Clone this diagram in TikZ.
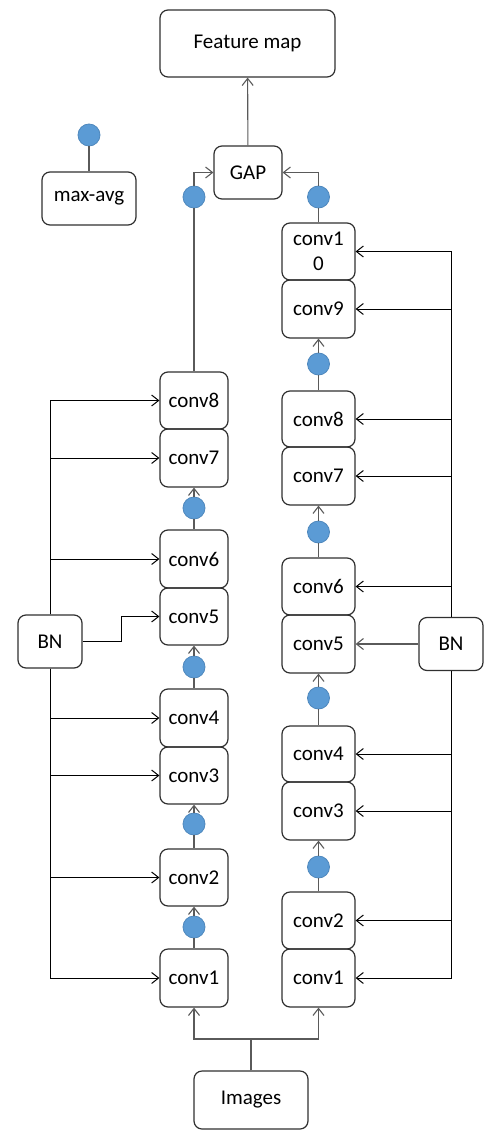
\documentclass[tikz,border=0pt]{standalone}
\usepackage{fontspec}
\setmainfont{Carlito}
\usepackage{tikz}
\usepackage{xcolor}
\usetikzlibrary{calc,arrows.meta}
\definecolor{dotfill}{HTML}{5B9BD5}
\definecolor{dotline}{HTML}{4F88BD}
\definecolor{boxline}{HTML}{303030}
\definecolor{wire}{HTML}{5A5A5A}
\tikzstyle{convbox} =[
    draw=boxline,
    line width=1.2pt,
    rounded corners=8pt,
    rectangle,
    align=center,
    inner sep=2pt,
    font=\fontsize{21}{25}\selectfont
    ]
\tikzstyle{dot} =[
    circle,
    fill=dotfill,
    draw=dotline,
    line width=0.8pt,
    minimum size=22pt,
    inner sep=0pt
    ]
\tikzstyle{wire} =[
    draw=wire,
    line width=1.1pt
    ]

\begin{document}
\begin{tikzpicture}[x=1pt,y=-1pt,>={Straight Barb[length=7pt,width=11pt]}]
\useasboundingbox (0,0) rectangle (494,1134);

% top part
\node[convbox, minimum width=175pt, minimum height=67pt] (fmap) at (247.5,43.5) {Feature map};
\node[convbox, minimum width=68pt, minimum height=53pt] (gap) at (248,172.5) {GAP};
\node[convbox, minimum width=94pt, minimum height=53pt] (maxavg) at (89,198.5) {max-avg};
\node[dot] (maxdot) at (89,135) {};
\draw[wire] (maxdot) -- (maxavg);
\draw[wire,->] (gap) -- (fmap);

% left branch
\node[convbox, minimum width=68pt, minimum height=57pt] (lc8) at (194,400.5) {conv8};
\node[convbox, minimum width=68pt, minimum height=58pt] (lc7) at (194,458) {conv7};
\node[convbox, minimum width=68pt, minimum height=58pt] (lc6) at (194,559) {conv6};
\node[convbox, minimum width=68pt, minimum height=57pt] (lc5) at (194,616.5) {conv5};
\node[convbox, minimum width=68pt, minimum height=58pt] (lc4) at (194,718) {conv4};
\node[convbox, minimum width=68pt, minimum height=57pt] (lc3) at (194,775.5) {conv3};
\node[convbox, minimum width=68pt, minimum height=57pt] (lc2) at (194,877.5) {conv2};
\node[convbox, minimum width=68pt, minimum height=58pt] (lc1) at (194,978) {conv1};
\node[dot] (ldot5) at (194,197) {};
\node[dot] (ldot4) at (194,508) {};
\node[dot] (ldot3) at (194,667) {};
\node[dot] (ldot2) at (194,824) {};
\node[dot] (ldot1) at (194,927) {};
\foreach \lo/\d/\hi in {lc1/ldot1/lc2, lc2/ldot2/lc3, lc4/ldot3/lc5, lc6/ldot4/lc7}{
    \draw[wire] (\lo) -- (\d);
    \draw[wire,->] (\d) -- (\hi);
}
\draw[wire] (lc8) -- (ldot5);
\draw[wire,->] (ldot5) |- (gap.west);

% right branch
\node[convbox, minimum width=73pt, minimum height=57pt] (rc10) at (318.5,251.5) {conv1\\0};
\node[convbox, minimum width=73pt, minimum height=58pt] (rc9) at (318.5,309) {conv9};
\node[convbox, minimum width=73pt, minimum height=56pt] (rc8) at (318.5,419) {conv8};
\node[convbox, minimum width=73pt, minimum height=58pt] (rc7) at (318.5,476) {conv7};
\node[convbox, minimum width=73pt, minimum height=57pt] (rc6) at (318.5,586.5) {conv6};
\node[convbox, minimum width=73pt, minimum height=58pt] (rc5) at (318.5,644) {conv5};
\node[convbox, minimum width=73pt, minimum height=56pt] (rc4) at (318.5,754) {conv4};
\node[convbox, minimum width=73pt, minimum height=58pt] (rc3) at (318.5,811) {conv3};
\node[convbox, minimum width=73pt, minimum height=57pt] (rc2) at (318.5,920.5) {conv2};
\node[convbox, minimum width=73pt, minimum height=58pt] (rc1) at (318.5,978) {conv1};
\node[dot] (rdot5) at (318.5,197) {};
\node[dot] (rdot4) at (318.5,364) {};
\node[dot] (rdot3) at (318.5,532) {};
\node[dot] (rdot2) at (318.5,698) {};
\node[dot] (rdot1) at (318.5,867) {};
\foreach \lo/\d/\hi in {rc2/rdot1/rc3, rc4/rdot2/rc5, rc6/rdot3/rc7, rc8/rdot4/rc9}{
    \draw[wire] (\lo) -- (\d);
    \draw[wire,->] (\d) -- (\hi);
}
\draw[wire] (rc10) -- (rdot5);
\draw[wire,->] (rdot5) |- (gap.east);

% batch norm
\node[convbox, minimum width=64pt, minimum height=53pt] (bnl) at (50,641.5) {BN};
\node[convbox, minimum width=64pt, minimum height=53pt] (bnr) at (451,644) {BN};
\foreach \t in {lc8,lc7,lc6}{\draw[->,line width=1pt] (bnl.north) |- (\t.west);}
\foreach \t in {lc4,lc3,lc2,lc1}{\draw[->,line width=1pt] (bnl.south) |- (\t.west);}
\coordinate (bnlturn) at (121,641.5);
\draw[->,line width=1pt] (bnl.east) -- (bnlturn) |- (lc5.west);
\foreach \t in {rc10,rc9,rc8,rc7,rc6}{\draw[->,line width=1pt] (bnr.north) |- (\t.east);}
\foreach \t in {rc4,rc3,rc2,rc1}{\draw[->,line width=1pt] (bnr.south) |- (\t.east);}
\draw[wire,->] (bnr.west) -- (rc5.east);

% input
\node[convbox, minimum width=114pt, minimum height=58pt] (img) at (251,1100) {Images};
\coordinate (imgsplit) at (251,1039);
\draw[wire,->] (img.north) -- (imgsplit) -| (lc1.south);
\draw[wire,->] (img.north) -- (imgsplit) -| (rc1.south);
\end{tikzpicture}
\end{document}
